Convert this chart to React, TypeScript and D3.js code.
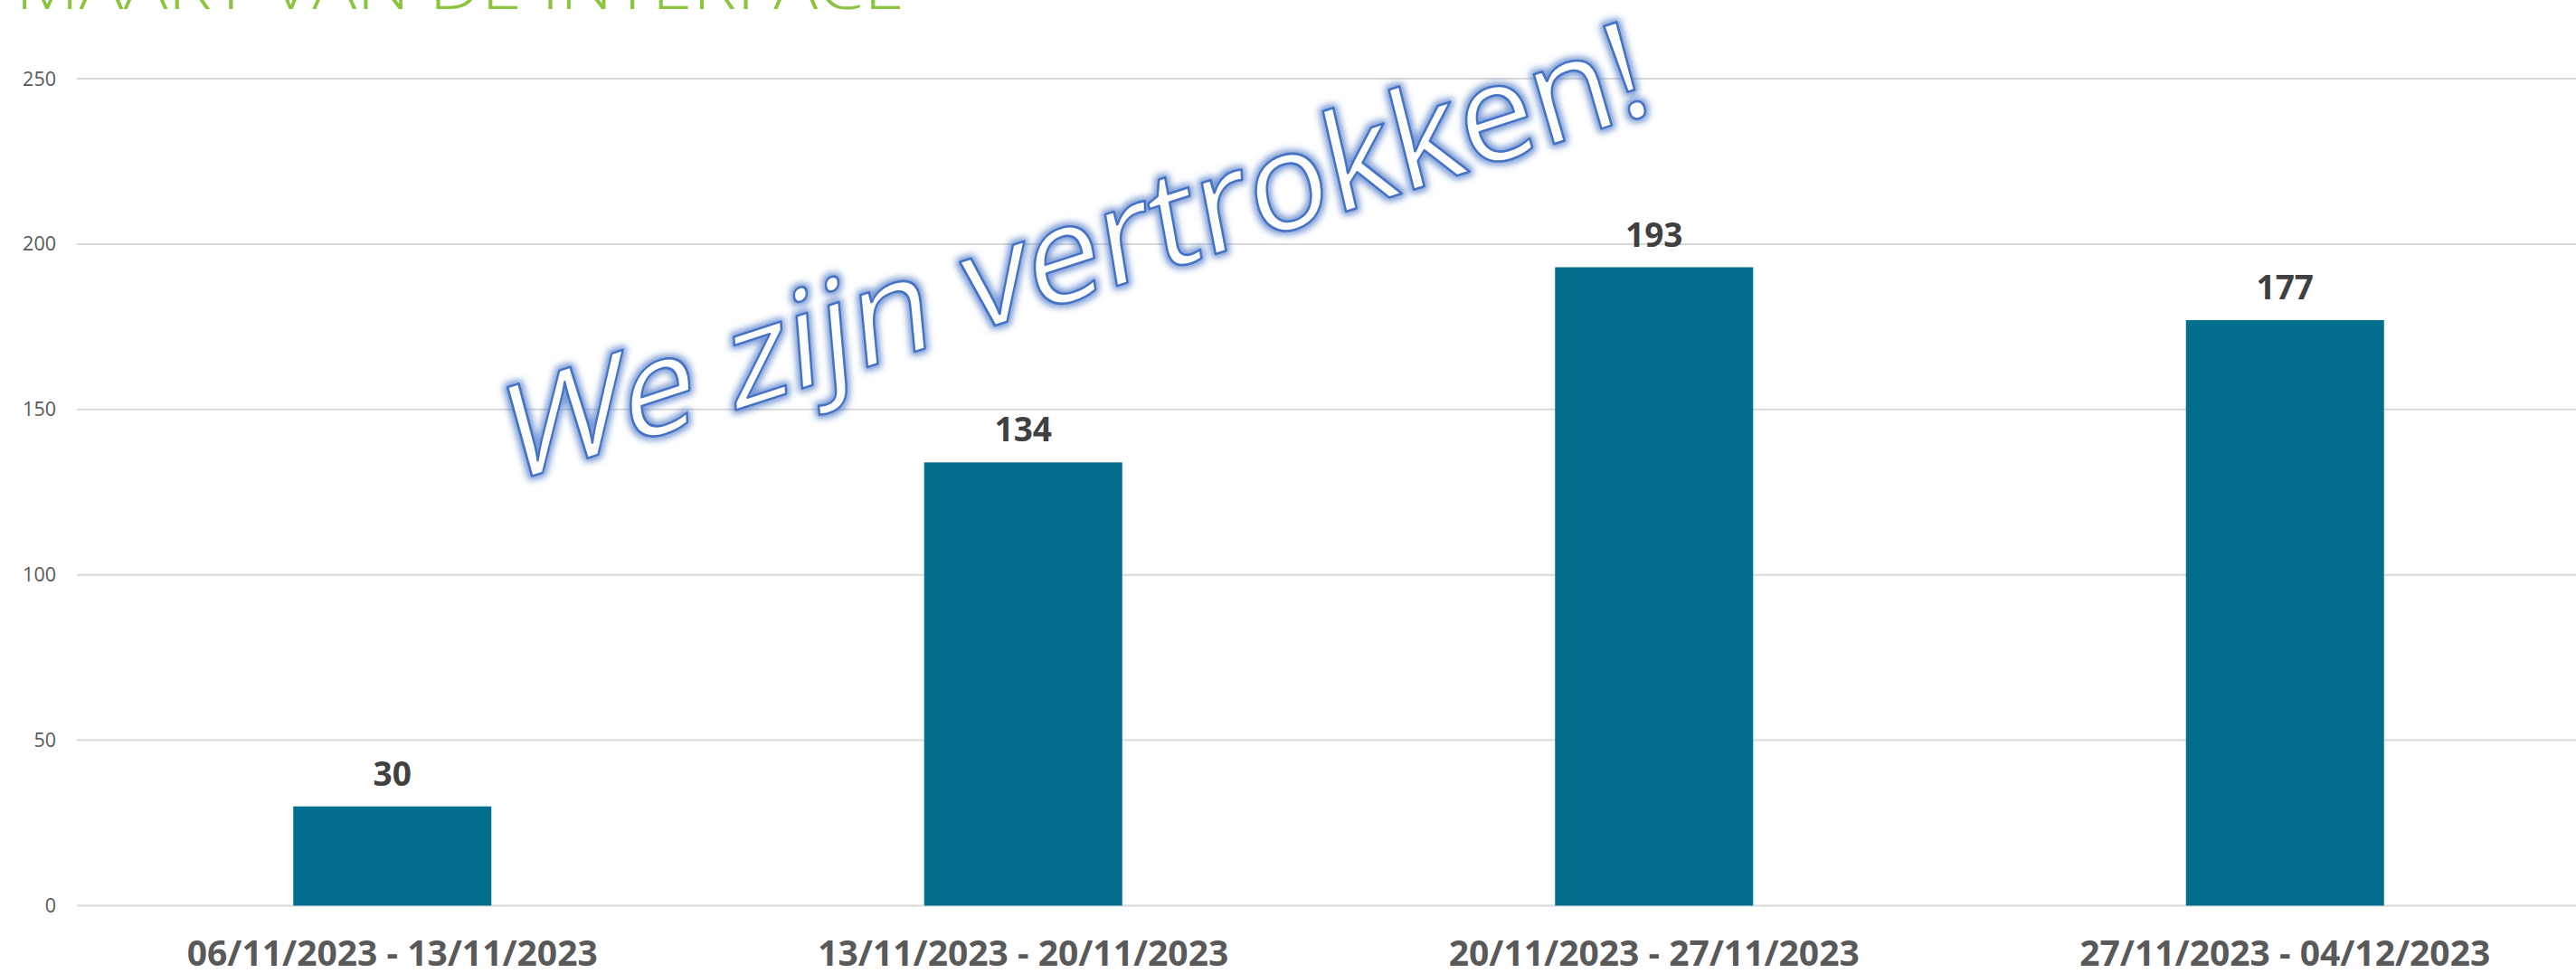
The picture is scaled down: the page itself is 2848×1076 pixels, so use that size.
import React, { useMemo } from 'react'
import * as d3 from 'd3'

const title = 'MAART VAN DE INTERFACE'
const watermark = 'We zijn vertrokken!'
const categories = [
    '06/11/2023 - 13/11/2023',
    '13/11/2023 - 20/11/2023',
    '20/11/2023 - 27/11/2023',
    '27/11/2023 - 04/12/2023',
]
const values = [30, 134, 193, 177]
const yTicks = [0, 50, 100, 150, 200, 250]

const W = 2848
const H = 1076
const FONT = "'Open Sans', 'Noto Sans', sans-serif"

// lay out the slanted word-art text one glyph at a time
function useGlyphs(text, size) {
    return useMemo(() => {
        const ctx = document.createElement('canvas').getContext('2d')
        ctx.font = `400 ${size}px 'Open Sans'`
        let u = 0
        const out = []
        for (const ch of text) {
            out.push({ ch, u })
            u += ctx.measureText(ch).width
        }
        return { glyphs: out, total: u }
    }, [text, size])
}

export default function App() {
    const x = d3.scaleBand()
        .domain(categories)
        .range([85, 85 + 4 * 697.5])
        .paddingInner(0.686)
        .paddingOuter(0.343)

    const y = d3.scaleLinear()
        .domain([0, 250])
        .range([1001.5, 87])

    const wmSize = 150
    const { glyphs, total } = useGlyphs(watermark, wmSize)
    const a = (18 * Math.PI) / 180
    const ox = 559
    const oy = 536

    return (
        <svg width={W} height={H} style={{ position: 'fixed', left: 0, top: 0, background: '#fff' }}>
            <defs>
                <filter id="glow" x="-10%" y="-10%" width="120%" height="120%">
                    <feMorphology in="SourceAlpha" operator="dilate" radius="2.5" result="fat" />
                    <feGaussianBlur in="fat" stdDeviation="3.5" result="blur" />
                    <feFlood floodColor="#4472c4" floodOpacity="0.7" />
                    <feComposite in2="blur" operator="in" result="halo" />
                    <feMerge>
                        <feMergeNode in="halo" />
                        <feMergeNode in="SourceGraphic" />
                    </feMerge>
                </filter>
            </defs>

            <text x={17} y={10} fill="#8bc540" fontFamily={FONT} fontWeight={300}
                fontSize={72} textLength={983} lengthAdjust="spacingAndGlyphs">
                {title}
            </text>

            {yTicks.map(t => (
                <g key={t}>
                    <line x1={85} x2={W} y1={y(t)} y2={y(t)} stroke="#d9d9d9" strokeWidth={2} />
                    <text x={62} y={y(t)} dy="0.35em" textAnchor="end" fill="#595959"
                        fontFamily={FONT} fontSize={21.5}>{t}</text>
                </g>
            ))}

            {categories.map((c, i) => (
                <g key={c}>
                    <rect x={x(c)} y={y(values[i])} width={x.bandwidth()}
                        height={y(0) - y(values[i])} fill="#046e8f" />
                    <text x={x(c) + x.bandwidth() / 2} y={y(values[i]) - 23} textAnchor="middle"
                        fill="#404040" fontFamily={FONT} fontWeight={700} fontSize={37}>
                        {values[i]}
                    </text>
                    <text x={x(c) + x.bandwidth() / 2} y={1068} textAnchor="middle"
                        fill="#595959" fontFamily={FONT} fontWeight={700} fontSize={39}>
                        {c}
                    </text>
                </g>
            ))}

            <g filter="url(#glow)">
                {glyphs.map((g, i) => {
                    const t = g.u / total
                    const b = a * t
                    const px = ox + g.u * Math.cos(a)
                    const py = oy - g.u * Math.sin(a)
                    const m = `matrix(${Math.cos(a)},${-Math.sin(a)},${Math.sin(b)},${Math.cos(b)},${px},${py})`
                    return (
                        <text key={i} transform={m} fill="#fdfdfd" stroke="#4472c4" strokeWidth={2.5}
                            strokeLinejoin="round" fontFamily={FONT} fontSize={wmSize}>
                            {g.ch}
                        </text>
                    )
                })}
            </g>
        </svg>
    )
}
